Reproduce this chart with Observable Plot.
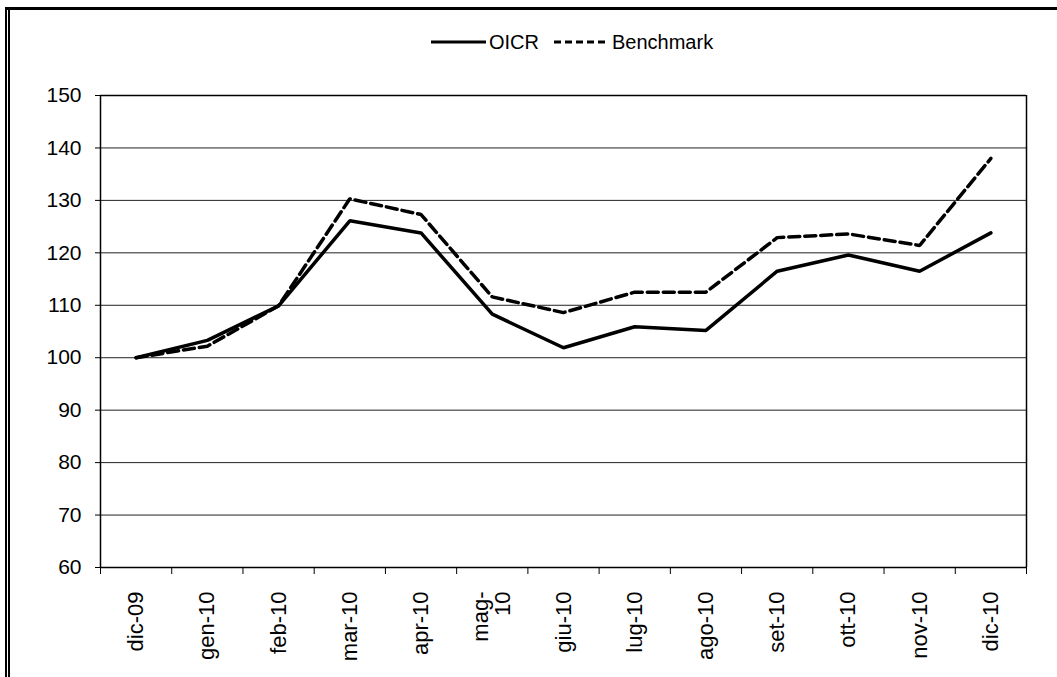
<!DOCTYPE html>
<html><head><meta charset="utf-8">
<script src="https://cdn.jsdelivr.net/npm/d3@7"></script>
<script src="https://cdn.jsdelivr.net/npm/@observablehq/plot@0.6"></script>
<style>
body{margin:0;background:#fff;}
#wrap{position:relative;width:1057px;height:677px;overflow:hidden;font-family:"Liberation Sans",Arial,sans-serif;background:#fff;}
#chart{position:absolute;left:0;top:0;}
.ftop{position:absolute;left:5px;top:7px;width:1052px;height:3px;background:#000;}
.fl1{position:absolute;left:5px;top:7px;width:1.5px;height:670px;background:#000;}
.fl2{position:absolute;left:8px;top:9px;width:1.5px;height:668px;background:#000;}
#legend{position:absolute;left:430px;top:28px;height:28px;display:flex;align-items:center;font-size:20px;color:#000;white-space:nowrap;}
#legend svg{display:block;}
</style></head><body>
<div id="wrap">
  <div id="chart"></div>
  <div class="ftop"></div><div class="fl1"></div><div class="fl2"></div>
  <div id="legend"></div>
</div>
<script>
const months = ["dic-09","gen-10","feb-10","mar-10","apr-10","mag-\n10","giu-10","lug-10","ago-10","set-10","ott-10","nov-10","dic-10"];
const oicr = [100,103.3,109.9,126.1,123.8,108.3,101.9,105.9,105.2,116.5,119.6,116.5,123.8];
const benchmark = [100,102.2,109.9,130.3,127.3,111.6,108.6,112.5,112.5,122.9,123.6,121.4,138.0];
const seriesNames = ["OICR","Benchmark"];
const yTicks = [60,70,80,90,100,110,120,130,140,150];

const rowsO = months.map((m,i)=>({x:i+0.5, month:m, value:oicr[i], series:seriesNames[0]}));
const rowsB = months.map((m,i)=>({x:i+0.5, month:m, value:benchmark[i], series:seriesNames[1]}));
const centers = months.map((m,i)=>i+0.5);
const bounds = d3.range(months.length+1);

const chart = Plot.plot({
  width:1057, height:677,
  marginLeft:100, marginRight:31, marginTop:95, marginBottom:110,
  style:{fontFamily:'"Liberation Sans", Arial, sans-serif', color:"#000", background:"transparent"},
  x:{type:"linear", domain:[0, months.length], axis:null},
  y:{type:"linear", domain:[60,150], axis:null},
  marks:[
    Plot.gridY(yTicks, {stroke:"#222", strokeOpacity:1, strokeWidth:1}),
    Plot.ruleX([0, months.length], {stroke:"#000", strokeWidth:1.5}),
    Plot.ruleY([60,150], {stroke:"#000", strokeWidth:1.5}),
    Plot.axisY(yTicks, {tickSize:5, tickPadding:14, fontSize:21, label:null, stroke:"#000"}),
    Plot.axisX(bounds, {tickSize:7, tickFormat:()=>"", label:null, stroke:"#000"}),
    Plot.axisX(centers, {tickSize:0, tickPadding:24, tickRotate:-90, fontSize:22, label:null, tickFormat:d=>months[Math.round(d-0.5)]}),
    Plot.line(rowsB, {x:"x", y:"value", stroke:"#000", strokeWidth:3.5, strokeDasharray:"11,5", strokeLinejoin:"miter"}),
    Plot.line(rowsO, {x:"x", y:"value", stroke:"#000", strokeWidth:3.5, strokeLinejoin:"miter"})
  ]
});
document.getElementById("chart").appendChild(chart);

const leg = document.getElementById("legend");
function item(name, dash){
  const s = document.createElementNS("http://www.w3.org/2000/svg","svg");
  s.setAttribute("width", 57); s.setAttribute("height", 10);
  const l = document.createElementNS("http://www.w3.org/2000/svg","line");
  l.setAttribute("x1",1); l.setAttribute("x2",56); l.setAttribute("y1",5); l.setAttribute("y2",5);
  l.setAttribute("stroke","#000"); l.setAttribute("stroke-width",3);
  if (dash) l.setAttribute("stroke-dasharray", dash);
  s.appendChild(l);
  const t = document.createElement("span");
  t.textContent = name;
  t.style.marginLeft = "2px";
  t.style.marginRight = "14px";
  leg.appendChild(s); leg.appendChild(t);
}
item(seriesNames[0], null);
item(seriesNames[1], "7,4");
</script>
</body></html>
